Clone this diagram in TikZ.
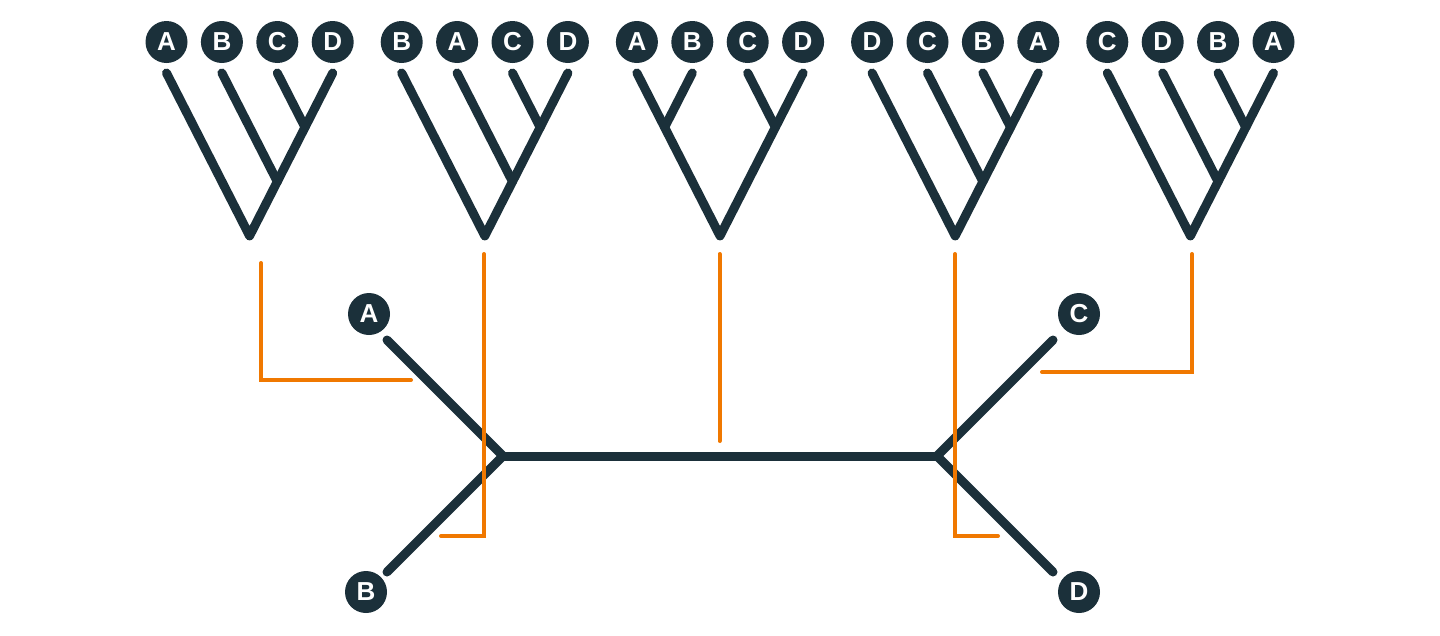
\documentclass[tikz,border=0pt]{standalone}
\usepackage{fontspec}
\setmainfont{Liberation Sans}
\definecolor{dk}{HTML}{1B303A}
\definecolor{org}{HTML}{F07800}
\newcommand\treeleaves[6]{%
  \node[leaf] (#1l1) at (#2,42) {#3};
  \node[leaf] (#1l2) at ({#2+55.4},42) {#4};
  \node[leaf] (#1l3) at ({#2+110.8},42) {#5};
  \node[leaf] (#1l4) at ({#2+166.2},42) {#6};
  \coordinate (#1t1) at (#2,73);
  \coordinate (#1t2) at ({#2+55.4},73);
  \coordinate (#1t3) at ({#2+110.8},73);
  \coordinate (#1t4) at ({#2+166.2},73);
  \coordinate (#1r) at ({#2+83.1},235.9);
}
\newcommand\cattree[6]{%
  \treeleaves{#1}{#2}{#3}{#4}{#5}{#6}
  \coordinate (#1ja) at ({#2+138.5},127.3);
  \coordinate (#1jb) at ({#2+110.8},181.6);
  \draw[branch] (#1t1) -- (#1r) -- (#1t4);
  \draw[branch] (#1t2) -- (#1jb);
  \draw[branch] (#1t3) -- (#1ja);
}
\newcommand\baltree[6]{%
  \treeleaves{#1}{#2}{#3}{#4}{#5}{#6}
  \coordinate (#1ja) at ({#2+27.7},127.3);
  \coordinate (#1jb) at ({#2+138.5},127.3);
  \draw[branch] (#1t1) -- (#1r) -- (#1t4);
  \draw[branch] (#1t2) -- (#1ja);
  \draw[branch] (#1t3) -- (#1jb);
}
\begin{document}
\begin{tikzpicture}[x=1pt,y=-1pt,
  leaf/.style={circle,fill=dk,text=white,minimum size=42pt,inner sep=0pt,
    font=\fontsize{26}{26}\selectfont\bfseries},
  branch/.style={draw=dk,line width=9pt,line cap=round,line join=round},
  link/.style={draw=org,line width=4pt,line cap=round,line join=miter}]
\useasboundingbox (0,0) rectangle (1440,635);

% top trees
\cattree{p}{166.5}{A}{B}{C}{D}
\cattree{q}{401.7}{B}{A}{C}{D}
\baltree{s}{636.9}{A}{B}{C}{D}
\cattree{u}{872.1}{D}{C}{B}{A}
\cattree{v}{1107.3}{C}{D}{B}{A}

% unrooted tree
\node[leaf] (A) at (369,314) {A};
\node[leaf] (B) at (366,592) {B};
\node[leaf] (C) at (1079,314) {C};
\node[leaf] (D) at (1079,592) {D};
\coordinate (ae) at (387,340);
\coordinate (be) at (387,572);
\coordinate (ce) at (1053,340);
\coordinate (de) at (1053,572);
\coordinate (L) at (503,456);
\coordinate (R) at (937,456);
\draw[branch] (ae) -- (L) -- (be);
\draw[branch] (ce) -- (R) -- (de);
\draw[branch] (L) -- (R);

% orange connectors
\coordinate (o1a) at (261,263);
\coordinate (o1b) at (261,380);
\coordinate (o1c) at (411,380);
\draw[link] (o1a) -- (o1b) -- (o1c);
\coordinate (o2a) at (484,254);
\coordinate (o2b) at (484,536);
\coordinate (o2c) at (441,536);
\draw[link] (o2a) -- (o2b) -- (o2c);
\coordinate (o3a) at (719.5,254);
\coordinate (o3b) at (719.5,441);
\draw[link] (o3a) -- (o3b);
\coordinate (o4a) at (955,254);
\coordinate (o4b) at (955,536);
\coordinate (o4c) at (998,536);
\draw[link] (o4a) -- (o4b) -- (o4c);
\coordinate (o5a) at (1192,254);
\coordinate (o5b) at (1192,372);
\coordinate (o5c) at (1042,372);
\draw[link] (o5a) -- (o5b) -- (o5c);
\end{tikzpicture}
\end{document}
